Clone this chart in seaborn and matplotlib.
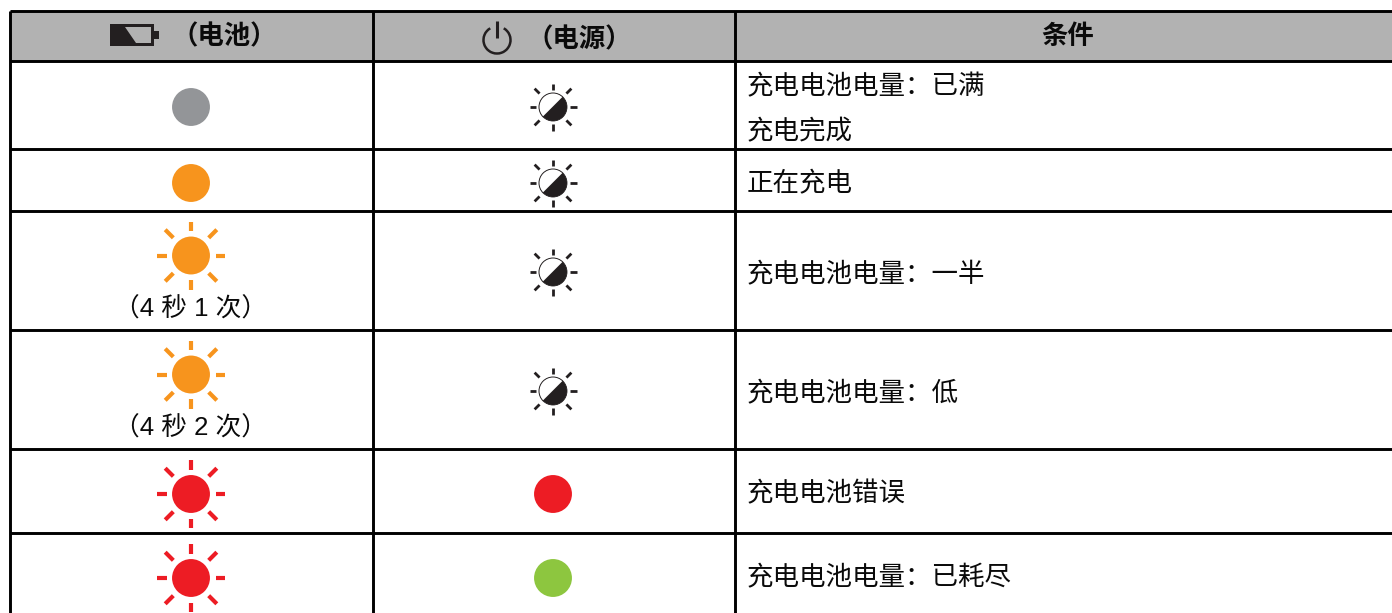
"""Battery and power indicator table, drawn on a pixel-sized axes."""

import math

import matplotlib.pyplot as plt
import pandas as pd
import seaborn as sns
from matplotlib.patches import Arc, Polygon, Wedge

sns.set_theme(style="white")
plt.rcParams["font.family"] = ["Liberation Sans", "Noto Sans CJK SC"]

# table content
header_labels = ["（电池）", "（电源）", "条件"]
battery_colors = ["grey", "orange", "orange", "orange", "red", "red"]
battery_blinks = [False, False, True, True, True, True]
battery_notes = ["", "", "（4 秒 1 次）", "（4 秒 2 次）", "", ""]
power_colors = ["half", "half", "half", "half", "red", "green"]
conditions = [
    ["充电电池电量：已满", "充电完成"],
    ["正在充电"],
    ["充电电池电量：一半"],
    ["充电电池电量：低"],
    ["充电电池错误"],
    ["充电电池电量：已耗尽"],
]

# layout, in pixels
WIDTH, HEIGHT = 1392, 613
col_edges = [9.5, 373, 735]
row_edges = [11, 61, 149, 211, 330, 449, 533, 620]
battery_offset = [2, 3, -15, -15, 3, 1.5]
power_offset = [2, 3, 1.5, 1.5, 3, 1.5]
text_offset = [-18, 4, 4.5, 4.5, 3, 2]
TEXT_COLOR = "#0a0a0a"

palette = {"grey": "#939598", "orange": "#F7941D", "red": "#ED1C24", "green": "#8DC63F"}
INK = "#231F20"


def row_centers(offsets):
    return [(row_edges[i + 1] + row_edges[i + 2]) / 2 + off for i, off in enumerate(offsets)]


def rays(ax, x, y, inner, outer, diag_inner, diag_outer, color, lw):
    for k in range(8):
        angle = math.radians(45 * k)
        r0, r1 = (diag_inner, diag_outer) if k % 2 else (inner, outer)
        ax.plot(
            [x + r0 * math.cos(angle), x + r1 * math.cos(angle)],
            [y + r0 * math.sin(angle), y + r1 * math.sin(angle)],
            color=color, lw=lw, solid_capstyle="butt", zorder=2,
        )


def half_lamp(ax, x, y):
    radius = 14
    # lower right half is dark, y axis runs downward
    ax.add_patch(Wedge((x, y), radius, 135, 315, fc="white", ec="none", zorder=3))
    ax.add_patch(Wedge((x, y), radius, -45, 135, fc=INK, ec=INK, lw=0.6, zorder=4))
    ax.add_patch(Arc((x, y), 2 * radius, 2 * radius, theta1=135, theta2=315, ec=INK, lw=0.7, zorder=4))
    rays(ax, x, y, 17, 23.5, 19, 26, INK, 2.0)


def header_icons(ax):
    ax.fill_between([110, 154], 23.5, 46, color=INK, lw=0, zorder=2)
    ax.fill_between([154, 158.5], 31, 38.5, color=INK, lw=0, zorder=2)
    ax.add_patch(Polygon([(125, 27), (151, 27), (151, 43), (136, 43)], fc="#B2B2B2", ec="none", zorder=3))
    ax.add_patch(Arc((497, 40), 27, 27, theta1=-60, theta2=240, ec=INK, lw=1.8, zorder=2))
    ax.plot([497, 497], [21, 38], color=INK, lw=2.2, solid_capstyle="butt", zorder=2)


fig, ax = plt.subplots(figsize=(WIDTH / 100, HEIGHT / 100), dpi=100)
ax.set_position([0, 0, 1, 1])
ax.set_xlim(0, WIDTH)
ax.set_ylim(HEIGHT, 0)
ax.axis("off")

ax.fill_between([col_edges[0], WIDTH], row_edges[0], row_edges[1], color="#B2B2B2", lw=0, zorder=1)
ax.hlines(row_edges[:-1], col_edges[0], WIDTH, color="black", lw=2.1, zorder=5)
ax.vlines(col_edges, row_edges[0], HEIGHT, color="black", lw=2.1, zorder=5)

# solid lamps
col_x = [191, 553]
battery_y = row_centers(battery_offset)
power_y = row_centers(power_offset)
lamps = pd.DataFrame(
    {
        "x": [col_x[0]] * len(battery_colors) + [col_x[1]] * len(power_colors),
        "y": battery_y + power_y,
        "state": battery_colors + power_colors,
    }
)
sns.scatterplot(
    data=lamps[lamps["state"] != "half"], x="x", y="y", hue="state", palette=palette,
    s=745, linewidth=0, legend=False, ax=ax, zorder=3, clip_on=False,
)
ax.set_xlim(0, WIDTH)
ax.set_ylim(HEIGHT, 0)

for y, color, blink, note in zip(battery_y, battery_colors, battery_blinks, battery_notes):
    if blink:
        rays(ax, col_x[0], y, 24.5, 34, 25, 36.5, palette[color], 3.0)
    if note:
        ax.text(col_x[0], y + 54, note, ha="center", va="center", fontsize=18.5, color=TEXT_COLOR)

for y, state in zip(power_y, power_colors):
    if state == "half":
        half_lamp(ax, col_x[1], y)

# header
header_icons(ax)
ax.text(224, 37, header_labels[0], ha="center", va="center", fontsize=19, weight="bold", color=TEXT_COLOR)
ax.text(579, 40, header_labels[1], ha="center", va="center", fontsize=19, weight="bold", color=TEXT_COLOR)
ax.text(1068, 37, header_labels[2], ha="center", va="center", fontsize=19, weight="bold", color=TEXT_COLOR)

# conditions
for y, lines in zip(row_centers(text_offset), conditions):
    for n, line in enumerate(lines):
        ax.text(746.5, y + n * 45, line, ha="left", va="center", fontsize=19.1, weight="medium", color=TEXT_COLOR)

fig.savefig("out.png", dpi=100)
